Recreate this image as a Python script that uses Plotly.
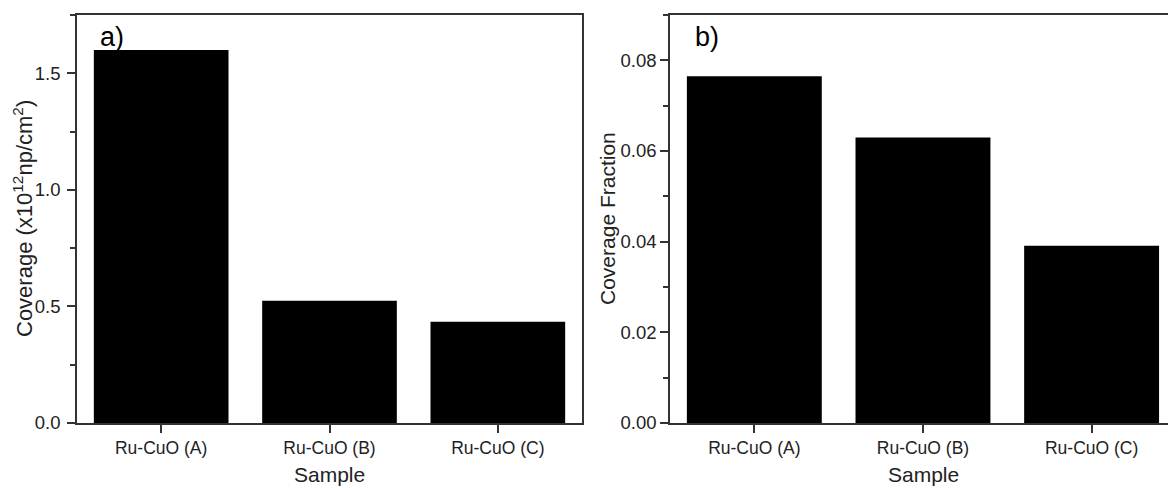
import plotly.graph_objects as go

samples = ["Ru-CuO (A)", "Ru-CuO (B)", "Ru-CuO (C)"]
coverage = [1.60, 0.524, 0.434]
coverage_fraction = [0.0765, 0.0630, 0.0391]

W, H = 1168, 488
TOP, BOT = 15, 423
FONT = "Liberation Sans, Arial, sans-serif"
AX = "#333333"
TXT = "#222222"

fig = go.Figure()
fig.add_trace(go.Bar(x=samples, y=coverage, width=0.8, marker=dict(color="black", line=dict(width=0)),
                     xaxis="x", yaxis="y", showlegend=False, hoverinfo="skip"))
fig.add_trace(go.Bar(x=samples, y=coverage_fraction, width=0.8, marker=dict(color="black", line=dict(width=0)),
                     xaxis="x2", yaxis="y2", showlegend=False, hoverinfo="skip"))

def px_x(p):
    return p / W

plot_h = BOT - TOP
def py(p):
    return (BOT - p) / plot_h

common_x = dict(showline=True, linecolor=AX, linewidth=1.5, ticks="outside", ticklen=8, tickwidth=1.5,
                tickcolor=AX, showgrid=False, zeroline=False, tickfont=dict(family=FONT, size=17.5, color=TXT))
common_y = dict(showline=True, linecolor=AX, linewidth=1.5, ticks="outside", ticklen=8, tickwidth=1.5,
                tickcolor=AX, showgrid=False, zeroline=False, tickfont=dict(family=FONT, size=18.5, color=TXT))

fig.update_layout(
    width=W, height=H,
    margin=dict(l=0, r=0, t=TOP, b=H - BOT, pad=0),
    plot_bgcolor="white", paper_bgcolor="white",
    xaxis=dict(domain=[px_x(77), px_x(582)], range=[-0.5, 2.5], mirror=True, anchor="y", **common_x),
    yaxis=dict(range=[0, 1.75], dtick=0.5, tickformat=".1f", mirror=True, anchor="x", ticklabelstandoff=3,
               minor=dict(ticks="outside", ticklen=5, tickwidth=1.5, tickcolor=AX, dtick=0.25, showgrid=False),
               **common_y),
    xaxis2=dict(domain=[px_x(670), 1.0], range=[-0.5, 2.453], mirror=True, anchor="y2", **common_x),
    yaxis2=dict(range=[0, 0.09], dtick=0.02, tickformat=".2f", mirror=False, anchor="x2",
                minor=dict(ticks="outside", ticklen=5, tickwidth=1.5, tickcolor=AX, dtick=0.01, showgrid=False),
                **common_y),
)

ann = [
    dict(text="a)", x=px_x(98), y=py(37), xanchor="left", yanchor="middle", font=dict(size=27, family=FONT, color="black")),
    dict(text="b)", x=px_x(693), y=py(37), xanchor="left", yanchor="middle", font=dict(size=27, family=FONT, color="black")),
    dict(text="Sample", x=px_x(329), y=py(474), xanchor="center", yanchor="middle", font=dict(size=21, family=FONT, color=TXT)),
    dict(text="Sample", x=px_x(923), y=py(474), xanchor="center", yanchor="middle", font=dict(size=21, family=FONT, color=TXT)),
    dict(text="Coverage (x10<sup>12</sup>np/cm<sup>2</sup>)", x=px_x(23), y=py(219), textangle=-90,
         xanchor="center", yanchor="middle", font=dict(size=22, family=FONT, color=TXT)),
    dict(text="Coverage Fraction", x=px_x(607), y=py(219), textangle=-90,
         xanchor="center", yanchor="middle", font=dict(size=21, family=FONT, color=TXT)),
]
for a in ann:
    a.update(xref="paper", yref="paper", showarrow=False)
fig.update_layout(annotations=ann)

fig.write_html(
    "out.html",
    config={"displayModeBar": False},
    post_script="document.body.style.margin='0';document.body.style.overflow='hidden';",
)
